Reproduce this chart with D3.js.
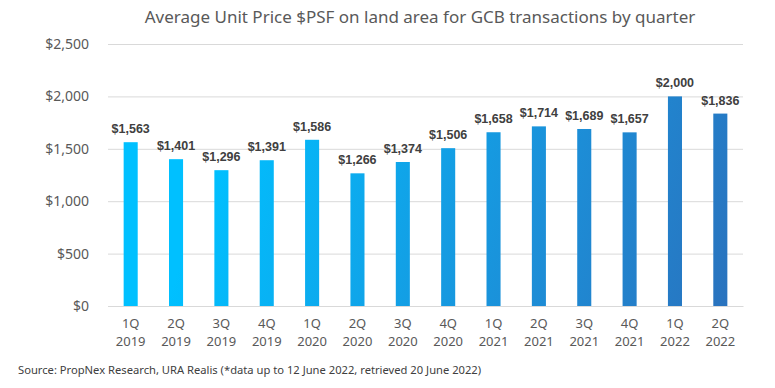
<!DOCTYPE html>
<html>
<head>
<meta charset="utf-8">
<script src="https://cdn.jsdelivr.net/npm/d3@7"></script>
<style>
  body { margin: 0; background: #fff; }
  text { font-family: "Noto Sans", sans-serif; }
</style>
</head>
<body>
<div id="chart"></div>
<script>
// chart data
let quarters = ['1Q', '2Q', '3Q', '4Q', '1Q', '2Q', '3Q', '4Q', '1Q', '2Q', '3Q', '4Q', '1Q', '2Q'];
let years = ['2019', '2019', '2019', '2019', '2020', '2020', '2020', '2020', '2021', '2021', '2021', '2021', '2022', '2022'];
let prices = [1563, 1401, 1296, 1391, 1586, 1266, 1374, 1506, 1658, 1714, 1689, 1657, 2000, 1836];
let yTicks = [0, 500, 1000, 1500, 2000, 2500];

let W = 775, H = 388;
let margin = { top: 44, left: 108, right: 32, bottom: 82 };
let width = W - margin.left - margin.right,
    height = H - margin.top - margin.bottom;

let svg = d3.select('#chart').append('svg')
  .attr('width', W)
  .attr('height', H)
  .style('background-color', '#FFFFFF');

// gradient across the whole plot, light cyan top-left to deep blue bottom-right
let defs = svg.append('defs');
let grad = defs.append('linearGradient')
  .attr('id', 'barGrad')
  .attr('gradientUnits', 'userSpaceOnUse')
  .attr('x1', margin.left).attr('y1', margin.top + 60)
  .attr('x2', margin.left + width).attr('y2', margin.top + height);
grad.append('stop').attr('offset', '0%').attr('stop-color', '#00c0ff');
grad.append('stop').attr('offset', '50%').attr('stop-color', '#1c8fd8');
grad.append('stop').attr('offset', '100%').attr('stop-color', '#3260ad');

let g = svg.append('g').attr('transform', 'translate(' + margin.left + ',' + margin.top + ')');

let idx = prices.map((d, i) => i);
let xScale = d3.scaleBand().domain(idx).range([0, width]).paddingInner(0.69).paddingOuter(0.345);
let yScale = d3.scaleLinear().domain([0, 2500]).range([height, 0]);

// gridlines
g.append('g')
  .call(d3.axisLeft(yScale).tickValues(yTicks).tickSize(-width).tickFormat(''))
  .call(a => a.select('.domain').remove())
  .call(a => a.selectAll('line').attr('stroke', '#d9d9d9').attr('stroke-width', 1));

// y axis labels
g.append('g')
  .call(d3.axisLeft(yScale).tickValues(yTicks).tickSize(0).tickPadding(19)
    .tickFormat(d => '$' + d3.format(',')(d)))
  .call(a => a.select('.domain').remove())
  .call(a => a.selectAll('text')
    .style('font-size', '14px')
    .attr('fill', '#595959'));

// bars
g.selectAll('.bar')
  .data(prices)
  .enter().append('rect')
  .attr('class', 'bar')
  .attr('x', (d, i) => xScale(i))
  .attr('y', d => yScale(d))
  .attr('width', xScale.bandwidth())
  .attr('height', d => height - yScale(d))
  .attr('fill', 'url(#barGrad)');

// value labels
g.selectAll('.val')
  .data(prices)
  .enter().append('text')
  .attr('class', 'val')
  .attr('x', (d, i) => xScale(i) + xScale.bandwidth() / 2)
  .attr('y', d => yScale(d) - 9)
  .attr('text-anchor', 'middle')
  .style('font-family', '"Liberation Sans", Arial, sans-serif')
  .style('font-weight', 'bold')
  .style('font-size', '12.5px')
  .attr('fill', '#404040')
  .text(d => '$' + d3.format(',')(d));

// x axis labels, quarter on first line, year on second
let xAxis = g.append('g')
  .attr('transform', 'translate(0,' + height + ')')
  .call(d3.axisBottom(xScale).tickSize(0).tickPadding(0).tickFormat(''));
xAxis.select('.domain').attr('stroke', '#d9d9d9');
xAxis.selectAll('.tick').each(function(i) {
  let tk = d3.select(this);
  tk.append('text')
    .attr('y', 22)
    .attr('text-anchor', 'middle')
    .attr('fill', '#595959')
    .style('font-size', '13px')
    .text(quarters[i]);
  tk.append('text')
    .attr('y', 40)
    .attr('text-anchor', 'middle')
    .attr('fill', '#595959')
    .style('font-size', '13px')
    .text(years[i]);
});

// title
svg.append('text')
  .attr('x', 420)
  .attr('y', 23)
  .attr('text-anchor', 'middle')
  .attr('fill', '#595959')
  .style('font-size', '17px')
  .text('Average Unit Price $PSF on land area for GCB transactions by quarter');

// source note
svg.append('text')
  .attr('x', 18)
  .attr('y', 374)
  .attr('fill', '#404040')
  .style('font-size', '11.2px')
  .text('Source: PropNex Research, URA Realis (*data up to 12 June 2022, retrieved 20 June 2022)');
</script>
</body>
</html>
